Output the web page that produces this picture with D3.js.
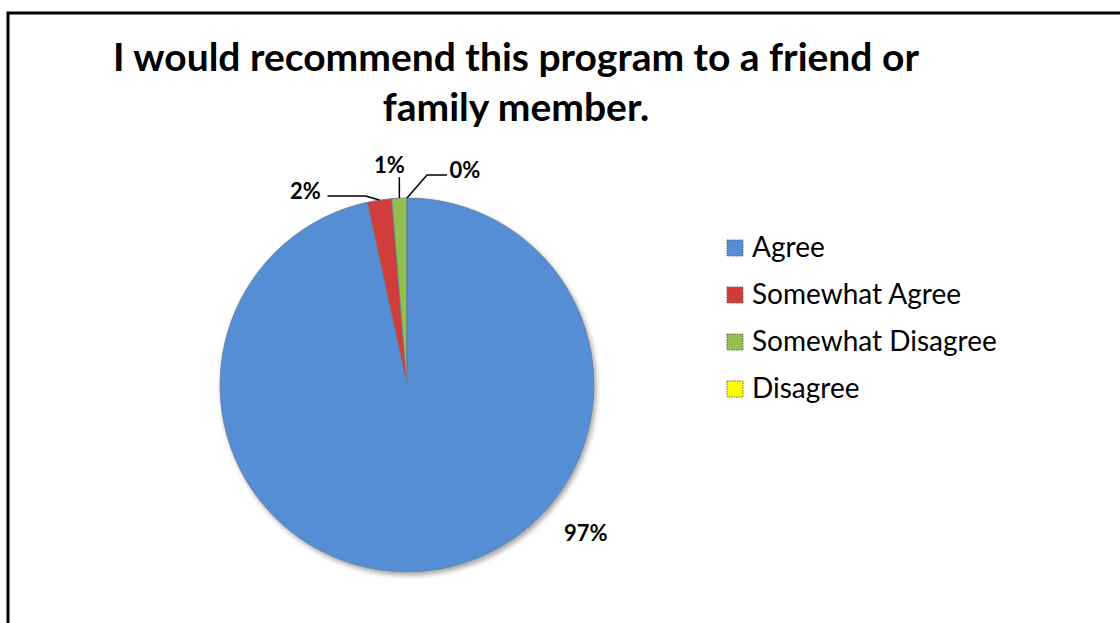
<!DOCTYPE html>
<html>
<head>
<meta charset="utf-8">
<script src="https://cdn.jsdelivr.net/npm/d3@7"></script>
<style>
  html, body { margin: 0; padding: 0; background: #fff; }
  svg { display: block; }
</style>
</head>
<body>
<svg id="chart"></svg>
<script>
const width = 1120;
const height = 623;

// data
const categories = ["Agree", "Somewhat Agree", "Somewhat Disagree", "Disagree"];
const shares = [0.966, 0.021, 0.013, 0.0];
const colors = ["#558ed5", "#d13c3a", "#92c04e", "#ffff00"];
const titleLines = ["I would recommend this program to a friend or", "family member."];

// label placement (offsets from the slice's outer edge point)
const labelOffsets = [
  {dx: 0, dy: 0, free: true},
  {dx: -74, dy: -9, leader: [[-14, -4], [-52, -4]]},
  {dx: -10, dy: -33, leader: [[0, -21]]},
  {dx: 58, dy: -28, leader: [[20, -23], [40, -23]]}
];

const font = "Lato, 'Open Sans', sans-serif";
const cx = 407, cy = 385, r = 187;

const svg = d3.select("#chart")
  .attr("width", width)
  .attr("height", height)
  .attr("viewBox", [0, 0, width, height]);

// frame
svg.append("path")
  .attr("d", `M8,${height + 5} L8,13 L${width + 5},13`)
  .attr("fill", "none")
  .attr("stroke", "#000")
  .attr("stroke-width", 3);

// title
svg.append("g")
  .selectAll("text")
  .data(titleLines)
  .join("text")
  .attr("x", 516)
  .attr("y", (d, i) => 71 + i * 50)
  .attr("text-anchor", "middle")
  .attr("font-family", font)
  .attr("font-weight", "bold")
  .attr("font-size", 39)
  .attr("fill", "#000")
  .text(d => d);

// shadow filter
const defs = svg.append("defs");
const f = defs.append("filter").attr("id", "shadow")
  .attr("x", "-10%").attr("y", "-10%").attr("width", "120%").attr("height", "120%");
f.append("feDropShadow")
  .attr("dx", 2).attr("dy", 3).attr("stdDeviation", 2.5)
  .attr("flood-color", "#000").attr("flood-opacity", 0.35);

// pie
const data = categories.map((c, i) => ({name: c, value: shares[i], color: colors[i]}));
const pie = d3.pie().value(d => d.value).sort(null);
const arcs = pie(data);
const arc = d3.arc().innerRadius(0).outerRadius(r);

const g = svg.append("g").attr("transform", `translate(${cx},${cy})`);

g.append("g")
  .attr("filter", "url(#shadow)")
  .selectAll("path")
  .data(arcs)
  .join("path")
  .attr("d", arc)
  .attr("fill", d => d.data.color)
  .attr("stroke", "#6d7f93")
  .attr("stroke-width", 0.8)
  .attr("stroke-linejoin", "round");

// labels
const fmt = d3.format(".0%");
arcs.forEach((a, i) => {
  const o = labelOffsets[i];
  const mid = (a.startAngle + a.endAngle) / 2;
  const px = r * Math.sin(mid), py = -r * Math.cos(mid);
  if (o.free) {
    // big slice label sits outside on the lower right
    const ang = 129.6 * Math.PI / 180;
    g.append("text")
      .attr("x", 1.24 * r * Math.sin(ang))
      .attr("y", -1.24 * r * Math.cos(ang))
      .attr("dy", "0.35em")
      .attr("text-anchor", "middle")
      .attr("font-family", font)
      .attr("font-weight", "bold")
      .attr("font-size", 22)
      .text(fmt(a.data.value));
    return;
  }
  const pts = [[px, py]].concat(o.leader.map(p => [px + p[0], py + p[1]]));
  g.append("path")
    .attr("d", d3.line()(pts))
    .attr("fill", "none")
    .attr("stroke", "#000")
    .attr("stroke-width", 1.5);
  g.append("text")
    .attr("x", px + o.dx)
    .attr("y", py + o.dy)
    .attr("dy", "0.35em")
    .attr("text-anchor", "middle")
    .attr("font-family", font)
    .attr("font-weight", "bold")
    .attr("font-size", 22)
    .text(fmt(a.data.value));
});

// legend
const legend = svg.append("g")
  .selectAll("g")
  .data(data)
  .join("g")
  .attr("transform", (d, i) => `translate(727,${257 + i * 47})`);

legend.append("rect")
  .attr("x", 0).attr("y", -17)
  .attr("width", 16).attr("height", 16)
  .attr("fill", d => d.color)
  .attr("stroke", "#666")
  .attr("stroke-width", 1)
  .attr("stroke-dasharray", "1.5,1");

legend.append("text")
  .attr("x", 25)
  .attr("y", 0)
  .attr("font-family", font)
  .attr("font-size", 28)
  .attr("fill", "#000")
  .text(d => d.name);
</script>
</body>
</html>
